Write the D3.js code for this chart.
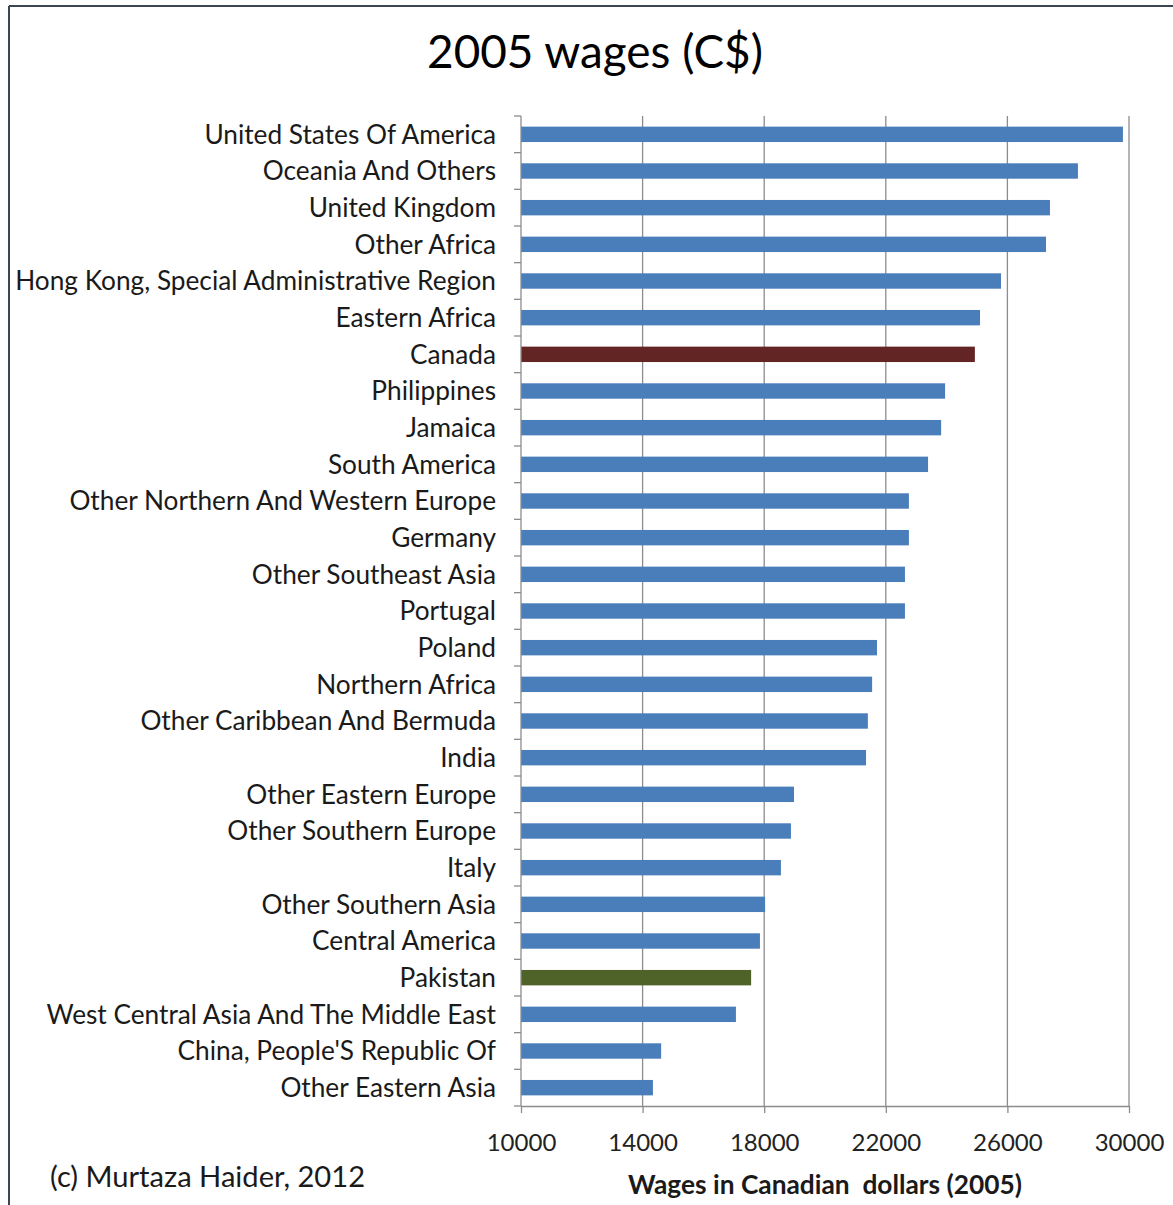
<!DOCTYPE html>
<html lang="en">
<head>
    <meta charset="UTF-8">
    <title>2005 wages (C$)</title>
    <script src="https://d3js.org/d3.v7.min.js" charset="utf-8"></script>
    <style>
        body {
            margin: 0;
            background: #fff;
            font-family: "Lato", "Noto Sans", sans-serif;
        }
        .grid line { stroke: #8c8c8c; stroke-width: 1.3; }
        .axis path, .axis line { stroke: #8c8c8c; stroke-width: 1.3; }
        .axis text { fill: #222; }
    </style>
</head>
<body>
    <script>
        // categories, top to bottom
        var countries = [
            "United States Of America", "Oceania And Others", "United Kingdom", "Other Africa",
            "Hong Kong, Special Administrative Region", "Eastern Africa", "Canada", "Philippines",
            "Jamaica", "South America", "Other Northern And Western Europe", "Germany",
            "Other Southeast Asia", "Portugal", "Poland", "Northern Africa",
            "Other Caribbean And Bermuda", "India", "Other Eastern Europe", "Other Southern Europe",
            "Italy", "Other Southern Asia", "Central America", "Pakistan",
            "West Central Asia And The Middle East", "China, People'S Republic Of", "Other Eastern Asia"
        ];
        var wages = [
            29800, 28320, 27400, 27270,
            25790, 25100, 24930, 23950,
            23820, 23390, 22760, 22760,
            22630, 22630, 21710, 21550,
            21410, 21350, 18980, 18880,
            18550, 18030, 17860, 17570,
            17070, 14610, 14340
        ];
        var xTicks = [10000, 14000, 18000, 22000, 26000, 30000];

        var width = 1173;
        var height = 1205;
        var margin = { top: 116, left: 521, right: 44, bottom: 99 };

        var barColor = "#4a7ebb";
        var highlight = { "Canada": "#632523", "Pakistan": "#4f6228" };

        var svg = d3.select("body")
                    .append("svg")
                    .attr("width", width)
                    .attr("height", height);

        // shrink/grow a text so it spans the width it has in the picture
        function fitWidth(sel, size, target) {
            sel.style("font-size", size + "px");
            var w = sel.node().getComputedTextLength();
            sel.style("font-size", (size * target / w).toFixed(2) + "px");
        }

        // frame edges (left and top only are visible in the picture)
        svg.append("line").attr("x1", 9).attr("x2", 9).attr("y1", 6).attr("y2", height)
            .attr("stroke", "#3c4650").attr("stroke-width", 2);
        svg.append("line").attr("x1", 9).attr("x2", width).attr("y1", 6).attr("y2", 6)
            .attr("stroke", "#3c4650").attr("stroke-width", 2);

        var x = d3.scaleLinear()
                .domain([10000, 30000])
                .range([margin.left, width - margin.right]);

        var y = d3.scaleBand()
                .domain(countries)
                .range([margin.top, height - margin.bottom])
                .paddingInner(0.58)
                .paddingOuter(0.29);

        var plotBottom = height - margin.bottom;

        // vertical gridlines
        svg.append("g")
            .attr("class", "grid")
            .selectAll("line")
            .data(xTicks.slice(1))
            .enter()
            .append("line")
            .attr("x1", function (d) { return x(d); })
            .attr("x2", function (d) { return x(d); })
            .attr("y1", margin.top)
            .attr("y2", plotBottom);

        // bars
        svg.append("g")
            .selectAll("rect")
            .data(countries)
            .enter()
            .append("rect")
            .attr("x", x(10000))
            .attr("y", function (d) { return y(d); })
            .attr("width", function (d, i) { return x(wages[i]) - x(10000); })
            .attr("height", y.bandwidth())
            .attr("fill", function (d) { return highlight[d] || barColor; });

        // x axis
        var xAxis = svg.append("g")
            .attr("class", "axis")
            .attr("transform", "translate(0," + plotBottom + ")")
            .call(d3.axisBottom(x).tickValues(xTicks).tickSize(7).tickSizeOuter(0).tickPadding(21)
                .tickFormat(d3.format("d")));
        xAxis.selectAll("text")
            .style("font-size", "24px")
            .style("font-family", "Lato, sans-serif");

        // y axis: ticks at category boundaries
        var yAxis = svg.append("g")
            .attr("class", "axis")
            .attr("transform", "translate(" + margin.left + ",0)");
        yAxis.append("line")
            .attr("x1", 0).attr("x2", 0)
            .attr("y1", margin.top).attr("y2", plotBottom);
        var step = y.step();
        var bounds = d3.range(countries.length + 1).map(function (i) {
            return margin.top + i * step;
        });
        yAxis.selectAll(".tk")
            .data(bounds)
            .enter()
            .append("line")
            .attr("x1", -7).attr("x2", 0)
            .attr("y1", function (d) { return d; })
            .attr("y2", function (d) { return d; });

        // category labels
        var labels = svg.append("g")
            .selectAll("text")
            .data(countries)
            .enter()
            .append("text")
            .attr("x", 496)
            .attr("y", function (d) { return y(d) + y.bandwidth() / 2; })
            .attr("dy", "0.36em")
            .attr("text-anchor", "end")
            .attr("fill", "#1a1a1a")
            .style("font-size", "22px")
            .text(function (d) { return d; });

        // fit label size to the width of the longest label in the picture (~481px)
        var longest = labels.filter(function (d) { return d.indexOf("Hong Kong") === 0; });
        var w = longest.node().getComputedTextLength();
        labels.style("font-size", (22 * 481 / w).toFixed(2) + "px");

        // title
        var title = svg.append("text")
            .attr("x", 595)
            .attr("y", 68)
            .attr("text-anchor", "middle")
            .attr("fill", "#000")
            .text("2005 wages (C$)");
        fitWidth(title, 41, 336);

        // axis title
        var xTitle = svg.append("text")
            .attr("x", 825)
            .attr("y", 1194)
            .attr("text-anchor", "middle")
            .attr("fill", "#1a1a1a")
            .style("font-weight", "bold")
            .attr("xml:space", "preserve")
            .text("Wages in Canadian  dollars (2005)");
        fitWidth(xTitle, 20, 394);

        // credit
        var credit = svg.append("text")
            .attr("x", 50)
            .attr("y", 1187)
            .attr("fill", "#1a1a1a")
            .text("(c) Murtaza Haider, 2012");
        fitWidth(credit, 25, 315);
    </script>
</body>
</html>
